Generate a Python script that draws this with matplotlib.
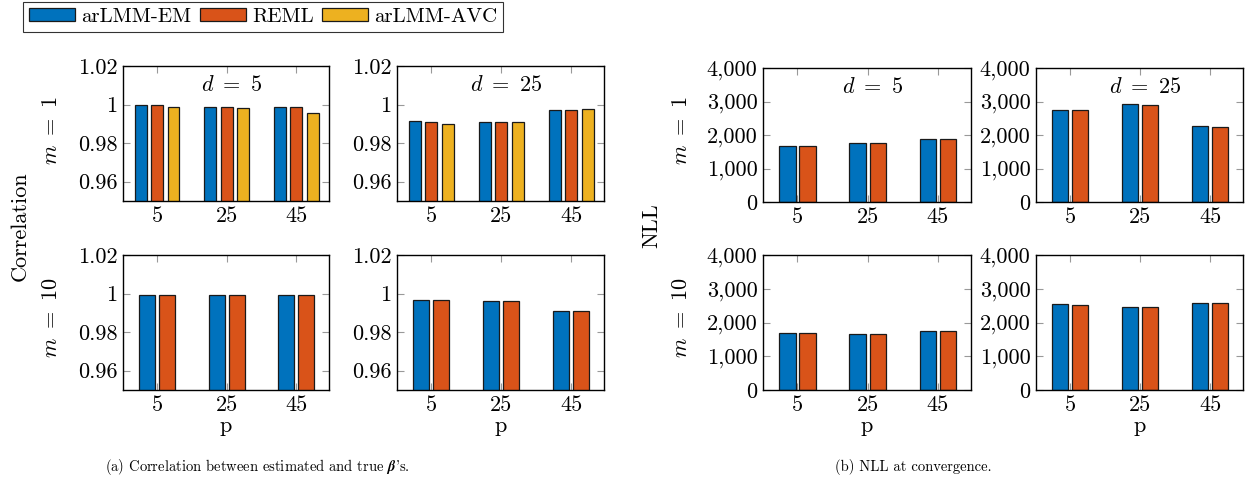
import matplotlib
matplotlib.use("Agg")
import matplotlib.pyplot as plt
from matplotlib.patches import Patch
import numpy as np

plt.rcParams['font.family'] = ['cmr10', 'DejaVu Serif']
plt.rcParams['mathtext.fontset'] = 'cm'
plt.rcParams['axes.formatter.use_mathtext'] = True

# ---- data ----
p_labels = ['5', '25', '45']
series_names = ['arLMM-EM', 'REML', 'arLMM-AVC']
colors = ['#0072BD', '#D95319', '#EDB120']

corr_m1_d5 = {'arLMM-EM': [0.9996, 0.9988, 0.9988],
              'REML': [0.9996, 0.9988, 0.9988],
              'arLMM-AVC': [0.9988, 0.9983, 0.9957]}
corr_m1_d25 = {'arLMM-EM': [0.9916, 0.9909, 0.9974],
               'REML': [0.9912, 0.9909, 0.9974],
               'arLMM-AVC': [0.9898, 0.9910, 0.9979]}
corr_m10_d5 = {'arLMM-EM': [0.9991, 0.9991, 0.9991],
               'REML': [0.9991, 0.9991, 0.9991]}
corr_m10_d25 = {'arLMM-EM': [0.9967, 0.9960, 0.9908],
                'REML': [0.9965, 0.9960, 0.9908]}

nll_m1_d5 = {'arLMM-EM': [1672, 1773, 1892],
             'REML': [1665, 1773, 1890]}
nll_m1_d25 = {'arLMM-EM': [2758, 2925, 2269],
              'REML': [2746, 2907, 2250]}
nll_m10_d5 = {'arLMM-EM': [1692, 1662, 1751],
              'REML': [1690, 1660, 1749]}
nll_m10_d25 = {'arLMM-EM': [2543, 2463, 2582],
               'REML': [2524, 2453, 2563]}

corr_ticks = [0.96, 0.98, 1.0, 1.02]
corr_ticklabels = ['0.96', '0.98', '1', '1.02']
nll_ticks = [0, 1000, 2000, 3000, 4000]
nll_ticklabels = ['0', '1,000', '2,000', '3,000', '4,000']

FS = 16

W, H = 1247, 479
fig = plt.figure(figsize=(W / 100, H / 100), dpi=100)


def add_ax(x0, y0, x1, y1):
    return fig.add_axes([x0 / W, 1 - y1 / H, (x1 - x0) / W, (y1 - y0) / H])


def draw(ax, data, ylim, ticks, ticklabels, title=None, xlabel=False):
    names = [n for n in series_names if n in data]
    k = len(names)
    x = np.arange(len(p_labels))
    if k == 3:
        offs, w = [-0.236, 0.0, 0.236], 0.171
    else:
        offs, w = [-0.143, 0.143], 0.234
    for name, off in zip(names, offs):
        ax.bar(x + off, data[name], width=w, bottom=0,
               color=colors[series_names.index(name)],
               edgecolor='#1a1a1a', linewidth=0.9, zorder=3)
    ax.set_ylim(*ylim)
    ax.set_xlim(-0.49, 2.47)
    ax.set_xticks(x)
    ax.set_xticklabels(p_labels)
    ax.set_yticks(ticks)
    ax.set_yticklabels(ticklabels)
    ax.tick_params(direction='in', top=True, right=True, length=5,
                   width=0.8, color='#999999', labelsize=FS, pad=4)
    for s in ax.spines.values():
        s.set_linewidth(1.0)
        s.set_color('black')
        s.set_zorder(5)
    if title:
        ax.text(0.53, 0.86, title, transform=ax.transAxes,
                ha='center', va='center', fontsize=FS)
    if xlabel:
        ax.set_xlabel('p', fontsize=FS, labelpad=1)


# correlation panels
a1 = add_ax(123, 66, 329, 201)
draw(a1, corr_m1_d5, (0.95, 1.02), corr_ticks, corr_ticklabels, title=r'$d\ =\ \mathit{5}$')
a2 = add_ax(397, 66, 604, 201)
draw(a2, corr_m1_d25, (0.95, 1.02), corr_ticks, corr_ticklabels, title=r'$d\ =\ \mathit{25}$')
a3 = add_ax(123, 255, 329, 390)
draw(a3, corr_m10_d5, (0.95, 1.02), corr_ticks, corr_ticklabels, xlabel=True)
a4 = add_ax(397, 255, 604, 390)
draw(a4, corr_m10_d25, (0.95, 1.02), corr_ticks, corr_ticklabels, xlabel=True)

# NLL panels
b1 = add_ax(763, 68, 971, 202)
draw(b1, nll_m1_d5, (0, 4000), nll_ticks, nll_ticklabels, title=r'$d\ =\ \mathit{5}$')
b2 = add_ax(1036, 68, 1243, 202)
draw(b2, nll_m1_d25, (0, 4000), nll_ticks, nll_ticklabels, title=r'$d\ =\ \mathit{25}$')
b3 = add_ax(763, 255, 971, 390)
draw(b3, nll_m10_d5, (0, 4000), nll_ticks, nll_ticklabels, xlabel=True)
b4 = add_ax(1036, 255, 1243, 390)
draw(b4, nll_m10_d25, (0, 4000), nll_ticks, nll_ticklabels, xlabel=True)

# row labels
for xp in (51, 681):
    fig.text(xp / W, 1 - 131 / H, r'$m\ =\ \mathit{1}$', rotation=90,
             ha='center', va='center', fontsize=FS)
    fig.text(xp / W, 1 - 318 / H, r'$m\ =\ \mathit{10}$', rotation=90,
             ha='center', va='center', fontsize=FS)

fig.text(20 / W, 1 - 226 / H, 'Correlation', rotation=90,
         ha='center', va='center', fontsize=FS)
fig.text(652 / W, 1 - 226 / H, 'NLL', rotation=90,
         ha='center', va='center', fontsize=FS)

# legend
handles = [Patch(facecolor=c, edgecolor='#1a1a1a', linewidth=0.9) for c in colors]
leg = fig.legend(handles, series_names, loc='upper left',
                 bbox_to_anchor=(23 / W, 1 - 2 / H), ncol=3, frameon=True,
                 fancybox=False, edgecolor='black', fontsize=15,
                 handlelength=2.2, handleheight=0.6, handletextpad=0.3,
                 columnspacing=0.4, borderpad=0.3, borderaxespad=0)
leg.get_frame().set_linewidth(0.8)

# captions
fig.text(257 / W, 1 - 467 / H,
         r"(a) Correlation between estimated and true $\boldsymbol{\beta}$'s.",
         ha='center', va='center', fontsize=10.5)
fig.text(913 / W, 1 - 467 / H, '(b) NLL at convergence.',
         ha='center', va='center', fontsize=10.5)

fig.savefig('out.png', dpi=100)
